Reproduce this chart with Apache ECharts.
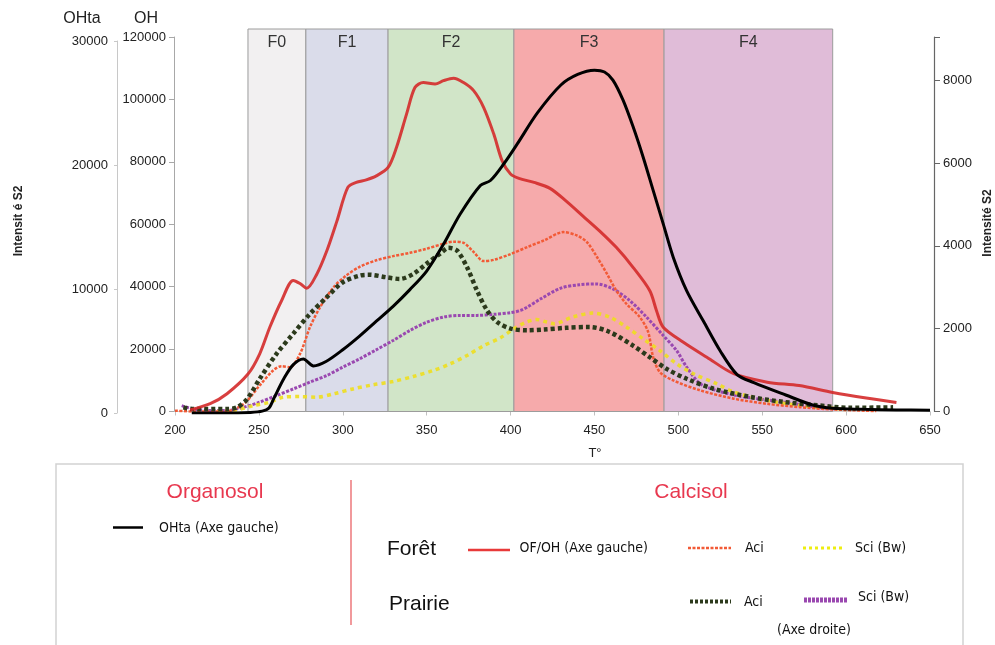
<!DOCTYPE html>
<html>
<head>
<meta charset="utf-8">
<script src="https://cdn.jsdelivr.net/npm/echarts@6/dist/echarts.min.js"></script>
<style>
    html, body { margin: 0; padding: 0; background: #fff; }
    #chart { width: 995px; height: 645px; }
</style>
</head>
<body>
<div id="chart"></div>
<script>
    // fractions thermiques
    const bandNames = ['F0', 'F1', 'F2', 'F3', 'F4'];
    const bandEdges = [243.5, 278, 327, 402, 491.5, 592];

    // Organosol OHta (axe gauche, OHta)
    const ohtaT = [210, 230, 245, 252, 256, 259, 265, 270.5, 276.5, 282.5, 290, 300, 310, 320, 330, 340, 350, 360, 370, 382, 388, 396, 404, 416, 430, 440, 450, 456, 461, 467, 473, 479, 485, 491, 497, 505, 515, 525, 535, 545, 564, 580, 592, 610, 630, 650];
    const ohtaV = [0, 0, 50, 150, 400, 1200, 2800, 3900, 4350, 3800, 4150, 5100, 6200, 7400, 8600, 9950, 11450, 13600, 16050, 18350, 18750, 20100, 21700, 24200, 26450, 27300, 27650, 27500, 26850, 25250, 23100, 20650, 17950, 15250, 12550, 9850, 7400, 5000, 3100, 2450, 1450, 650, 380, 300, 250, 220];

    // Calcisol forêt OF/OH (axe gauche, OH)
    const ofohT = [209, 221, 231, 243.5, 250.5, 256.5, 263.5, 270.5, 274.5, 278.5, 284.5, 290.5, 296.5, 303, 308, 314, 320, 327, 332, 338, 343, 348, 355, 360, 366, 372, 378, 384, 390, 395, 400, 405, 414, 423.5, 433, 443, 453, 463, 473, 483, 487, 491, 503, 517, 533, 553, 572, 592, 612, 630];
    const ofohV = [500, 2500, 5700, 12000, 18500, 27000, 35500, 42000, 41000, 39500, 44000, 51500, 61000, 71800, 73400, 74200, 75500, 78200, 84600, 95300, 103800, 105400, 104900, 106000, 106800, 105400, 102800, 97400, 88900, 80300, 76100, 74700, 73400, 71500, 67500, 62700, 57900, 52600, 46200, 38700, 32300, 27000, 22200, 17400, 12100, 9400, 8300, 6100, 4300, 2900];

    // Calcisol forêt Aci (axe droite)
    const foretAciT = [200, 211, 230, 241, 250.5, 258.5, 263.5, 268.5, 274.5, 280.5, 286.5, 294.5, 302, 310, 320, 330, 340, 350, 360, 366, 372, 378, 384, 390, 400, 410, 420, 431.5, 439.5, 445.5, 451.5, 457.5, 463, 469, 477, 482, 485, 489, 497, 513, 533, 553, 572.5, 592, 618];
    const foretAciV = [20, 0, 0, 185, 630, 990, 1095, 1070, 1390, 2040, 2520, 3000, 3280, 3490, 3650, 3750, 3830, 3930, 4050, 4100, 4070, 3850, 3630, 3660, 3800, 3970, 4130, 4330, 4250, 4090, 3730, 3320, 2920, 2600, 2280, 1920, 1310, 950, 750, 510, 310, 185, 105, 50, 10];

    // Calcisol forêt Sci (Bw) (axe droite)
    const foretSciT = [225, 237, 247, 256.5, 264.5, 274.5, 284.5, 294.5, 306, 318, 330, 342, 354, 364, 374, 384, 394, 402, 409.5, 415.5, 421.5, 426, 437, 449, 459, 469, 479, 489, 499, 509, 523, 533, 553, 572.5, 592, 600];
    const foretSciV = [0, 40, 145, 225, 345, 360, 345, 425, 545, 645, 725, 845, 990, 1150, 1350, 1590, 1780, 2000, 2160, 2220, 2160, 2120, 2280, 2375, 2280, 2040, 1755, 1470, 1150, 910, 670, 470, 265, 145, 80, 40];

    // Calcisol prairie Aci (axe droite)
    const prairieAciT = [205, 211, 231, 237, 243, 250.5, 260.5, 270.5, 280.5, 290.5, 300, 310, 316, 326, 334, 342, 350, 358, 363, 368, 374, 380, 386, 392, 400, 410, 420, 433, 447, 459, 473, 483, 493, 505, 521, 543, 563, 583, 602, 628];
    const prairieAciV = [100, 60, 60, 100, 300, 790, 1390, 1880, 2360, 2760, 3120, 3280, 3300, 3240, 3200, 3320, 3570, 3810, 3950, 3890, 3490, 2920, 2440, 2160, 2000, 1960, 1980, 2020, 2040, 1920, 1590, 1310, 1030, 790, 550, 350, 230, 150, 90, 100];

    // Calcisol prairie Sci (Bw) (axe droite)
    const prairieSciT = [204, 211, 221, 231, 241, 250.5, 260.5, 270.5, 280.5, 290.5, 300, 310, 320, 330, 340, 350, 360, 370, 380, 390, 400, 406, 410, 418, 430, 441, 451, 461, 471, 481, 491, 499, 505, 513, 523, 533, 543, 563, 582.5, 594];
    const prairieSciV = [140, 60, 25, 25, 105, 225, 385, 545, 710, 870, 1070, 1270, 1490, 1715, 1955, 2155, 2280, 2320, 2320, 2345, 2385, 2440, 2520, 2720, 2980, 3060, 3080, 2960, 2680, 2280, 1835, 1470, 1070, 670, 505, 400, 330, 225, 105, 60];

    const bandColors = ['#f2f0f1', '#dadcea', '#d1e5c8', '#f6aaab', '#e0bcd8'];
    const FONT = 'Liberation Sans, Arial, sans-serif';
    const NARROW = '"Liberation Sans Narrow", "DejaVu Sans Condensed", Arial, sans-serif';
    const zip = (xs, ys) => xs.map((x, i) => [x, ys[i]]);
    const plain = (v) => String(v);

    const myChart = echarts.init(document.getElementById('chart'));

    const xBase = { type: 'value', min: 200, max: 650, interval: 50, splitLine: { show: false } };
    const labelStyle = { color: '#222', fontSize: 13, fontFamily: FONT };

    function legendText(text, x, y, size, font, color) {
        return {
            type: 'text', x: x, y: y,
            style: { text: text, fontSize: size, fontFamily: font, fill: color || '#111', align: 'left', verticalAlign: 'middle' }
        };
    }
    function legendLine(x1, x2, y, color, width, dash) {
        return {
            type: 'line',
            shape: { x1: x1, y1: y, x2: x2, y2: y },
            style: { stroke: color, lineWidth: width, lineDash: dash || null }
        };
    }

    const option = {
        animation: false,
        backgroundColor: '#fff',
        grid: [
            { left: 175, right: 65, top: 37, height: 374.5 },
            { left: 175, right: 65, top: 41, height: 372 },
            { left: 175, right: 65, top: 29, height: 382.5 }
        ],
        xAxis: [
            Object.assign({}, xBase, {
                gridIndex: 0,
                axisLine: { show: true, lineStyle: { color: '#d0d0d0', width: 1 } },
                axisTick: { show: true, length: 4, lineStyle: { color: '#c0c0c0' } },
                axisLabel: Object.assign({ margin: 12, formatter: plain }, labelStyle)
            }),
            Object.assign({}, xBase, { gridIndex: 1, show: false }),
            Object.assign({}, xBase, { gridIndex: 2, show: false })
        ],
        yAxis: [
            {
                type: 'value', gridIndex: 0, position: 'left', offset: 1,
                min: 0, max: 120000, interval: 20000,
                splitLine: { show: false },
                axisLine: { show: true, lineStyle: { color: '#a8a8a8' } },
                axisTick: { show: true, length: 5, lineStyle: { color: '#a8a8a8' } },
                axisLabel: Object.assign({ margin: 8, formatter: plain }, labelStyle)
            },
            {
                type: 'value', gridIndex: 0, position: 'right', offset: 4,
                min: 0, max: 9040, interval: 2000,
                splitLine: { show: false },
                axisLine: { show: true, lineStyle: { color: '#666', width: 1.2 } },
                axisTick: { show: true, length: 6, lineStyle: { color: '#666' } },
                axisLabel: Object.assign({
                    margin: 9,
                    formatter: (v) => (v % 2000 === 0 ? String(v) : '')
                }, labelStyle)
            },
            {
                type: 'value', gridIndex: 1, position: 'left', offset: 58,
                min: 0, max: 30000, interval: 10000,
                splitLine: { show: false },
                axisLine: { show: true, lineStyle: { color: '#c8c8c8' } },
                axisTick: { show: true, length: 3, lineStyle: { color: '#c8c8c8' } },
                axisLabel: Object.assign({ margin: 9, formatter: plain }, labelStyle)
            },
            { type: 'value', gridIndex: 2, show: false, min: 0, max: 1 }
        ],
        series: [
            {
                // bandes F0..F4
                type: 'line', xAxisIndex: 2, yAxisIndex: 3, z: 1,
                data: [[200, 0], [650, 0]],
                symbol: 'none', silent: true,
                lineStyle: { opacity: 0 },
                markArea: {
                    silent: true,
                    label: { show: true, position: 'insideTop', distance: 6, fontSize: 16, color: '#333', fontFamily: FONT },
                    itemStyle: { borderColor: '#9c9c9c', borderWidth: 1 },
                    data: bandNames.map((n, i) => [
                        { name: n, xAxis: bandEdges[i], itemStyle: { color: bandColors[i] } },
                        { xAxis: bandEdges[i + 1] }
                    ])
                }
            },
            {
                name: 'Prairie Sci (Bw)', type: 'line', xAxisIndex: 0, yAxisIndex: 1, z: 3,
                data: zip(prairieSciT, prairieSciV), symbol: 'none', smooth: 0.3,
                lineStyle: { color: '#9a48b0', width: 3, type: [3, 1.5] }
            },
            {
                name: 'Forêt Sci (Bw)', type: 'line', xAxisIndex: 0, yAxisIndex: 1, z: 3,
                data: zip(foretSciT, foretSciV), symbol: 'none', smooth: 0.3,
                lineStyle: { color: 'rgba(238,222,30,0.9)', width: 3.5, type: [4, 4] }
            },
            {
                name: 'Forêt Aci', type: 'line', xAxisIndex: 0, yAxisIndex: 1, z: 3,
                data: zip(foretAciT, foretAciV), symbol: 'none', smooth: 0.3,
                lineStyle: { color: '#f25a36', width: 2.5, type: [3, 1.5] }
            },
            {
                name: 'Prairie Aci', type: 'line', xAxisIndex: 0, yAxisIndex: 1, z: 3,
                data: zip(prairieAciT, prairieAciV), symbol: 'none', smooth: 0.3,
                lineStyle: { color: '#2c3a1c', width: 4.5, type: [4, 3] }
            },
            {
                name: 'OF/OH', type: 'line', xAxisIndex: 0, yAxisIndex: 0, z: 4,
                data: zip(ofohT, ofohV), symbol: 'none', smooth: 0.3,
                lineStyle: { color: '#d42a2a', width: 3, opacity: 0.9 }
            },
            {
                name: 'OHta', type: 'line', xAxisIndex: 1, yAxisIndex: 2, z: 5,
                data: zip(ohtaT, ohtaV), symbol: 'none', smooth: 0.3,
                lineStyle: { color: '#000', width: 3 }
            }
        ],
        graphic: [
            // titres des axes
            { type: 'text', x: 82, y: 19, style: { text: 'OHta', fontSize: 16, fontFamily: FONT, fill: '#222', align: 'center', verticalAlign: 'middle' } },
            { type: 'text', x: 146, y: 19, style: { text: 'OH', fontSize: 16, fontFamily: FONT, fill: '#222', align: 'center', verticalAlign: 'middle' } },
            { type: 'text', x: 19, y: 221, rotation: Math.PI / 2, style: { text: 'Intensit é S2', fontSize: 12, fontWeight: 'bold', fontFamily: FONT, fill: '#222', align: 'center', verticalAlign: 'middle' } },
            { type: 'text', x: 988, y: 223, rotation: Math.PI / 2, style: { text: 'Intensité S2', fontSize: 12, fontWeight: 'bold', fontFamily: FONT, fill: '#222', align: 'center', verticalAlign: 'middle' } },
            { type: 'text', x: 595, y: 453, style: { text: 'T°', fontSize: 13, fontFamily: FONT, fill: '#222', align: 'center', verticalAlign: 'middle' } },

            // légende
            { type: 'rect', shape: { x: 56, y: 464, width: 907, height: 200 }, style: { fill: '#fff', stroke: '#d2d2d2', lineWidth: 1.5 } },
            { type: 'text', x: 215, y: 492, style: { text: 'Organosol', fontSize: 21, fontFamily: FONT, fill: '#e8384f', align: 'center', verticalAlign: 'middle' } },
            { type: 'text', x: 691, y: 492, style: { text: 'Calcisol', fontSize: 21, fontFamily: FONT, fill: '#e8384f', align: 'center', verticalAlign: 'middle' } },
            { type: 'line', shape: { x1: 351, y1: 480, x2: 351, y2: 625 }, style: { stroke: '#e8565a', lineWidth: 1.2 } },

            legendLine(113, 143, 527.5, '#000', 2.5),
            legendText('OHta (Axe gauche)', 159, 528, 14, NARROW),
            legendText('Forêt', 387, 549, 21, FONT),
            legendText('Prairie', 389, 604, 21, FONT),

            legendLine(468, 510, 550, '#e83a3a', 2.5),
            legendText('OF/OH (Axe gauche)', 519.5, 548, 14, NARROW),
            legendLine(688, 731, 548, '#f25a36', 2.5, [3, 1.5]),
            legendText('Aci', 745, 548, 14, NARROW),
            legendLine(803, 843, 548, '#eeee10', 3, [3, 3]),
            legendText('Sci (Bw)', 855, 548, 14, NARROW),

            legendLine(690, 731, 601.5, '#2c3a1c', 4, [3, 2]),
            legendText('Aci', 744, 602, 14, NARROW),
            legendLine(804, 848, 600, '#9a48b0', 5, [3, 1]),
            legendText('Sci (Bw)', 858, 597, 14, NARROW),
            legendText('(Axe droite)', 777, 630, 14, NARROW)
        ]
    };

    myChart.setOption(option);
    window.onresize = () => {
        myChart.resize();
    };
</script>
</body>
</html>
